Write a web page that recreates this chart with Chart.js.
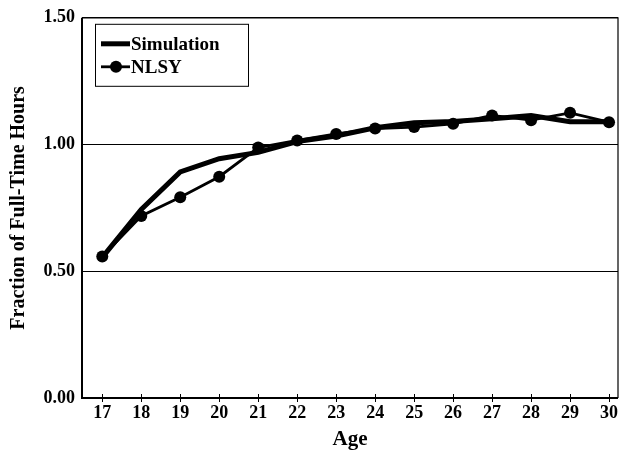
<!DOCTYPE html>
<html>
<head>
<meta charset="utf-8">
<script src="https://cdn.jsdelivr.net/npm/chart.js@4/dist/chart.umd.min.js"></script>
<style>
  html, body { margin: 0; padding: 0; background: #fff; }
  #wrap { width: 624px; height: 456px; }
</style>
</head>
<body>
<div id="wrap"><canvas id="hoursChart" width="624" height="456"></canvas></div>
<script>
// ages on the x axis
const ages = [17, 18, 19, 20, 21, 22, 23, 24, 25, 26, 27, 28, 29, 30];
// fraction of full-time hours
const simulation = [0.555, 0.744, 0.892, 0.944, 0.969, 1.012, 1.034, 1.066, 1.086, 1.091, 1.102, 1.114, 1.090, 1.090];
const nlsy       = [0.558, 0.718, 0.792, 0.873, 0.988, 1.016, 1.042, 1.063, 1.069, 1.082, 1.115, 1.096, 1.125, 1.088];
const yTicks = [0, 0.5, 1.0, 1.5];

const FONT = "'Liberation Serif', 'Times New Roman', serif";

// crossing tick marks on the x axis + frame + legend box
const extras = {
  id: 'extras',
  afterDraw(chart) {
    const { ctx, chartArea: a, scales: { x } } = chart;
    ctx.save();
    ctx.strokeStyle = '#000';
    // frame
    ctx.lineWidth = 1.2;
    ctx.beginPath();
    ctx.moveTo(a.left, a.top); ctx.lineTo(a.right, a.top); ctx.lineTo(a.right, a.bottom);
    ctx.stroke();
    ctx.lineWidth = 2;
    ctx.beginPath();
    ctx.moveTo(a.left, a.top); ctx.lineTo(a.left, a.bottom); ctx.lineTo(a.right, a.bottom);
    ctx.stroke();
    // x ticks
    ctx.lineWidth = 1;
    ages.forEach(v => {
      const px = Math.round(x.getPixelForValue(v)) + 0.5;
      ctx.beginPath();
      ctx.moveTo(px, a.bottom - 4); ctx.lineTo(px, a.bottom + 4);
      ctx.stroke();
    });
    // legend
    const lx = a.left + 13, ly = a.top + 6, lw = 153, lh = 62;
    ctx.fillStyle = '#fff';
    ctx.fillRect(lx, ly, lw, lh);
    ctx.lineWidth = 1;
    ctx.strokeRect(lx + 0.5, ly + 0.5, lw, lh);
    ctx.font = 'bold 19px ' + FONT;
    ctx.fillStyle = '#000';
    ctx.textBaseline = 'middle';
    const items = chart.data.datasets;
    items.forEach((ds, i) => {
      const cy = ly + 20 + i * 23;
      ctx.lineWidth = ds.borderWidth;
      ctx.beginPath();
      ctx.moveTo(lx + 6, cy); ctx.lineTo(lx + 35, cy);
      ctx.stroke();
      if (ds.pointRadius > 0) {
        ctx.beginPath();
        ctx.arc(lx + 21, cy, ds.pointRadius, 0, Math.PI * 2);
        ctx.fill();
      }
      ctx.fillText(ds.label, lx + 36, cy + 1);
    });
    ctx.restore();
  }
};

new Chart(document.getElementById('hoursChart'), {
  type: 'line',
  data: {
    datasets: [
      {
        label: 'Simulation',
        data: ages.map((a, i) => ({ x: a, y: simulation[i] })),
        borderColor: '#000', backgroundColor: '#000',
        borderWidth: 5, pointRadius: 0, tension: 0
      },
      {
        label: 'NLSY',
        data: ages.map((a, i) => ({ x: a, y: nlsy[i] })),
        borderColor: '#000', backgroundColor: '#000',
        borderWidth: 2.8, pointRadius: 6, pointBorderWidth: 0, tension: 0
      }
    ]
  },
  options: {
    responsive: false, animation: false,
    layout: { padding: { top: 16, right: 5, left: 0, bottom: 0 } },
    plugins: { legend: { display: false }, tooltip: { enabled: false } },
    scales: {
      x: {
        type: 'linear', min: 16.48, max: 30.23,
        afterBuildTicks: s => { s.ticks = ages.map(v => ({ value: v })); },
        afterFit: s => { s.height = 58; },
        grid: { display: false, drawTicks: false },
        border: { display: false },
        ticks: { color: '#000', padding: 5, font: { family: FONT, size: 18, weight: 'bold' }, maxRotation: 0, autoSkip: false },
        title: { display: true, text: 'Age', color: '#000', padding: { top: 0 }, font: { family: FONT, size: 21, weight: 'bold' } }
      },
      y: {
        min: 0, max: 1.5,
        afterBuildTicks: s => { s.ticks = yTicks.map(v => ({ value: v })); },
        afterFit: s => { s.width = 82; },
        grid: { color: '#000', lineWidth: 1, drawTicks: false },
        border: { display: false },
        ticks: { color: '#000', padding: 7, font: { family: FONT, size: 18, weight: 'bold' }, callback: v => v.toFixed(2) },
        title: { display: true, text: 'Fraction of Full-Time Hours', color: '#000', padding: { top: 7, bottom: 0 }, font: { family: FONT, size: 20, weight: 'bold' } }
      }
    }
  },
  plugins: [extras]
});
</script>
</body>
</html>
